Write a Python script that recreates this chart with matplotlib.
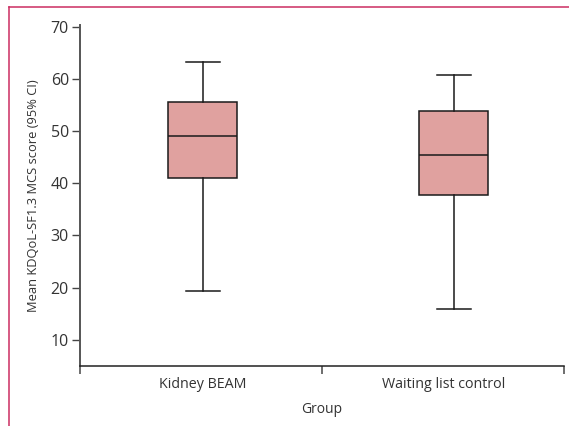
import matplotlib.pyplot as plt
from matplotlib.lines import Line2D

groups = ['Kidney BEAM', 'Waiting list control']
whis_low = [19.3, 15.9]
q1 = [41.0, 37.8]
median = [49.0, 45.5]
q3 = [55.6, 53.8]
whis_high = [63.2, 60.8]

plt.rcParams['font.family'] = ['Open Sans', 'DejaVu Sans']

fig = plt.figure(figsize=(5.69, 4.26), dpi=100)
ax = fig.add_axes([0.1406, 0.1408, 0.8506, 0.8005])

stats = []
for i, g in enumerate(groups):
    stats.append(dict(label=g, whislo=whis_low[i], q1=q1[i], med=median[i],
                      q3=q3[i], whishi=whis_high[i], fliers=[]))

ax.bxp(stats, positions=[0, 1], widths=0.275, capwidths=0.135,
       patch_artist=True, showfliers=False,
       boxprops=dict(facecolor='#e0a19f', edgecolor='#1a1a1a', linewidth=1.1),
       medianprops=dict(color='#1a1a1a', linewidth=1.1),
       whiskerprops=dict(color='#1a1a1a', linewidth=1.1),
       capprops=dict(color='#1a1a1a', linewidth=1.1))

ax.set_xlim(-0.49, 1.44)
ax.set_ylim(5, 70.3)
ax.set_yticks([10, 20, 30, 40, 50, 60, 70])

# category labels without marks, separators as minor ticks
ax.set_xticks([0, 0.96])
ax.set_xticklabels(groups, fontsize=10.3, color='#333333')
ax.tick_params(axis='x', which='major', length=0, pad=8)
ax.set_xticks([-0.49, 0.474, 1.44], minor=True)
ax.tick_params(axis='x', which='minor', length=6, width=1.2, color='#555555')

ax.tick_params(axis='y', length=6, width=1.0, color='#444444',
               labelsize=11.5, labelcolor='#333333', pad=2)

for s in ['top', 'right']:
    ax.spines[s].set_visible(False)
ax.spines['left'].set_color('#555555')
ax.spines['left'].set_linewidth(1.4)
ax.spines['bottom'].set_color('#222222')
ax.spines['bottom'].set_linewidth(1.1)

ax.set_ylabel('Mean KDQoL-SF1.3 MCS score (95% CI)', fontsize=9.3,
              color='#333333', labelpad=8)
ax.set_xlabel('Group', fontsize=10, color='#333333', labelpad=7)

# pink frame lines on the left and top
frame = '#cc2e62'
fig.add_artist(Line2D([8.5 / 569, 8.5 / 569], [0, 1 - 7 / 426],
                      transform=fig.transFigure, color=frame, linewidth=1.1))
fig.add_artist(Line2D([8.5 / 569, 1], [1 - 7 / 426, 1 - 7 / 426],
                      transform=fig.transFigure, color=frame, linewidth=1.1))

fig.savefig('out.png', dpi=100)
